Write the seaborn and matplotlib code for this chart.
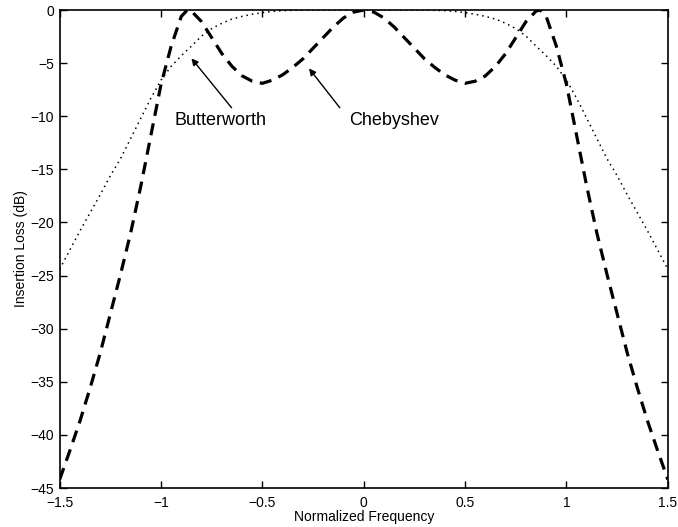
import matplotlib
matplotlib.use("Agg")
import matplotlib.pyplot as plt
import pandas as pd
import seaborn as sns

# Butterworth response (dotted)
butter_freq = [-1.5, -1.45, -1.4, -1.35, -1.3, -1.25, -1.2, -1.15, -1.1, -1.05,
               -1.0, -0.95, -0.9, -0.85, -0.8, -0.75, -0.7, -0.65, -0.6, -0.55,
               -0.5, -0.45, -0.4, -0.35, -0.3, -0.25, -0.2, -0.15, -0.1, -0.05,
               0.0, 0.05, 0.1, 0.15, 0.2, 0.25, 0.3, 0.35, 0.4, 0.45,
               0.5, 0.55, 0.6, 0.65, 0.7, 0.75, 0.8, 0.85, 0.9, 0.95,
               1.0, 1.05, 1.1, 1.15, 1.2, 1.25, 1.3, 1.35, 1.4, 1.45, 1.5]
butter_loss = [-24.4, -22.6, -20.8, -19.1, -17.4, -15.6, -14.0, -12.1, -10.2, -8.3,
               -6.6, -5.3, -4.3, -3.4, -2.45, -1.75, -1.25, -0.85, -0.6, -0.4,
               -0.25, -0.13, -0.06, -0.03, -0.01, -0.01, 0.0, 0.0, 0.0, 0.0,
               0.0, 0.0, 0.0, 0.0, 0.0, -0.01, -0.01, -0.03, -0.06, -0.13,
               -0.25, -0.4, -0.6, -0.85, -1.25, -1.75, -2.45, -3.4, -4.3, -5.3,
               -6.6, -8.3, -10.2, -12.1, -14.0, -15.6, -17.4, -19.1, -20.8, -22.6, -24.4]

# Chebyshev response (dashed)
cheb_freq = [-1.5, -1.45, -1.4, -1.35, -1.3, -1.25, -1.2, -1.15, -1.1, -1.05,
             -1.0, -0.95, -0.9, -0.87, -0.85, -0.8, -0.75, -0.7, -0.65, -0.6,
             -0.55, -0.5, -0.45, -0.4, -0.35, -0.3, -0.25, -0.2, -0.15, -0.1,
             -0.05, 0.0, 0.05, 0.1, 0.15, 0.2, 0.25, 0.3, 0.35, 0.4,
             0.45, 0.5, 0.55, 0.6, 0.65, 0.7, 0.75, 0.8, 0.85, 0.87,
             0.9, 0.95, 1.0, 1.05, 1.1, 1.15, 1.2, 1.25, 1.3, 1.35,
             1.4, 1.45, 1.5]
cheb_loss = [-44.2, -41.5, -38.7, -35.6, -32.3, -28.6, -24.9, -21.0, -16.6, -11.8,
             -7.0, -3.4, -0.6, 0.0, -0.1, -1.1, -2.6, -4.1, -5.3, -6.2,
             -6.7, -6.9, -6.6, -6.1, -5.4, -4.6, -3.6, -2.6, -1.6, -0.75,
             -0.2, 0.0, -0.2, -0.75, -1.6, -2.6, -3.6, -4.6, -5.4, -6.1,
             -6.6, -6.9, -6.7, -6.2, -5.3, -4.1, -2.6, -1.1, -0.1, 0.0,
             -0.6, -3.4, -7.0, -11.8, -16.6, -21.0, -24.9, -28.6, -32.3, -35.6,
             -38.7, -41.5, -44.2]

x_ticks = [-1.5, -1, -0.5, 0, 0.5, 1, 1.5]
x_tick_labels = ["\u22121.5", "\u22121", "\u22120.5", "0", "0.5", "1", "1.5"]
y_ticks = [0, -5, -10, -15, -20, -25, -30, -35, -40, -45]

butter_df = pd.DataFrame({"freq": butter_freq, "loss": butter_loss})
cheb_df = pd.DataFrame({"freq": cheb_freq, "loss": cheb_loss})

sns.set_style("ticks")
plt.rcParams["font.family"] = ["Liberation Sans", "DejaVu Sans"]
plt.rcParams["text.color"] = "black"
plt.rcParams["axes.labelcolor"] = "black"

fig = plt.figure(figsize=(6.78, 5.27), dpi=100)
ax = fig.add_axes([0.088, 0.074, 0.897, 0.907])

sns.lineplot(data=butter_df, x="freq", y="loss", ax=ax, color="black",
             linewidth=1.1, linestyle=(0, (1, 2.6)), estimator=None)
sns.lineplot(data=cheb_df, x="freq", y="loss", ax=ax, color="black",
             linewidth=2.3, linestyle=(0, (3.8, 2.4)), estimator=None)

ax.set_xlim(-1.5, 1.5)
ax.set_ylim(-45, 0)
ax.set_xticks(x_ticks)
ax.set_xticklabels(x_tick_labels)
ax.set_yticks(y_ticks)
ax.set_yticklabels([str(v).replace("-", "\u2212") for v in y_ticks])
ax.tick_params(direction="in", length=5, width=1, labelsize=10,
               top=True, right=True, colors="black")
ax.tick_params(axis="x", pad=6)
ax.tick_params(axis="y", pad=4)
for side in ax.spines.values():
    side.set_linewidth(1.2)
    side.set_color("black")

ax.set_xlabel("Normalized Frequency", fontsize=10, labelpad=0, color="black")
ax.set_ylabel("Insertion Loss (dB)", fontsize=10, labelpad=2, color="black")

# callouts: label text and its pointer arrow
ax.text(-0.705, -10.4, "Butterworth", ha="center", va="center", fontsize=13,
        color="black")
ax.annotate("", xy=(-0.85, -4.55), xytext=(-0.652, -9.2),
            arrowprops=dict(arrowstyle="-|>", color="black", lw=1,
                            shrinkA=0, shrinkB=0, mutation_scale=10))
ax.text(0.152, -10.4, "Chebyshev", ha="center", va="center", fontsize=13,
        color="black")
ax.annotate("", xy=(-0.27, -5.5), xytext=(-0.118, -9.2),
            arrowprops=dict(arrowstyle="-|>", color="black", lw=1,
                            shrinkA=0, shrinkB=0, mutation_scale=10))

plt.savefig("out.png", dpi=100)
plt.close()
